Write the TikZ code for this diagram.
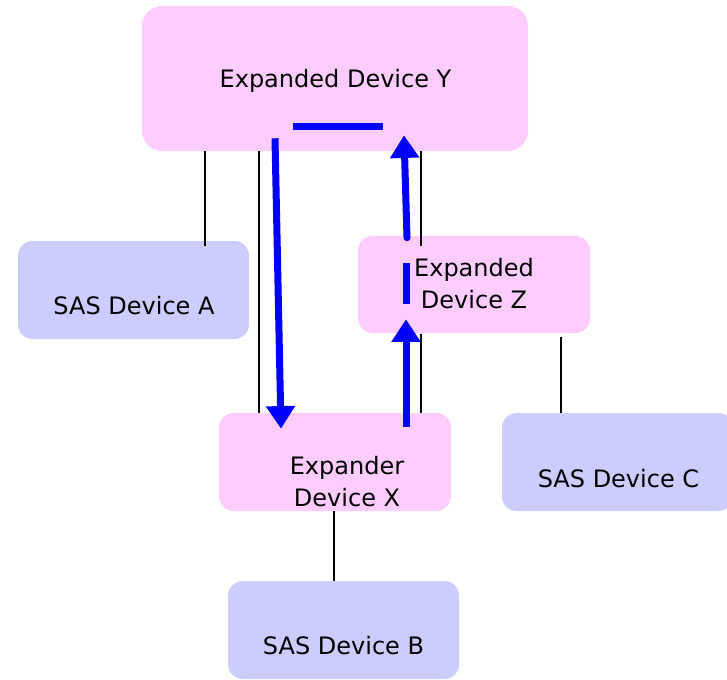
\documentclass[tikz,border=0pt]{standalone}
\usepackage{fontspec}
\setmainfont{DejaVu Sans}
\usetikzlibrary{arrows.meta,calc}
\definecolor{pinkbox}{HTML}{FFCCFF}
\definecolor{bluebox}{HTML}{CCCCFF}
\definecolor{flowblue}{HTML}{0000FF}
\tikzset{
  box/.style={draw=none, rounded corners=11pt, inner sep=0pt},
  dev/.style={box, fill=pinkbox},
  sas/.style={box, fill=bluebox},
  lbl/.style={font=\fontsize{18}{24}\selectfont, align=center, inner sep=0pt, anchor=base},
  link/.style={black, line width=1pt},
  flow/.style={flowblue, line width=5.25pt, -{Triangle[width=21pt,length=17pt]}},
  bar/.style={flowblue, line width=5.25pt},
}
\begin{document}
\begin{tikzpicture}[x=0.75pt,y=-0.75pt]
\useasboundingbox (0,0) rectangle (727,679);
% boxes
\node[dev, rounded corners=15pt, minimum width=289.5pt, minimum height=108.75pt] (Y) at (335,78.5) {};
\node[sas, minimum width=173.25pt, minimum height=73.5pt] (A) at (133.5,290) {};
\node[dev, minimum width=174pt, minimum height=72.75pt] (Z) at (474,284.5) {};
\node[dev, minimum width=174pt, minimum height=73.5pt] (X) at (335,462) {};
\node[sas, minimum width=173.25pt, minimum height=73.5pt] (C) at (617.5,462) {};
\node[sas, minimum width=173.25pt, minimum height=73.5pt] (B) at (343.5,630) {};
% labels
\node[lbl] (Ytext) at (335.5,87) {Expanded Device Y};
\node[lbl] (Atext) at (134,314) {SAS Device A};
\node[lbl] (Ztext) at (474,308) {Expanded\\Device Z};
\node[lbl] (Xtext) at (347,506) {Expander\\Device X};
\node[lbl] (Ctext) at (618.5,487) {SAS Device C};
\node[lbl] (Btext) at (343.5,654) {SAS Device B};
% black links
\draw[link] ($(Y.south)+(-130,0)$) -- ($(A.north)+(71.5,5)$);
\draw[link] ($(Y.south)+(-76,0)$) -- ($(X.north)+(-76,0)$);
\draw[link] ($(Y.south)+(86,0)$) -- ($(Z.north)+(-53,10)$);
\draw[link] ($(Z.south)+(-53,1)$) -- ($(X.north)+(86,0)$);
\draw[link] ($(Z.south)+(87,4)$) -- ($(C.north)+(-56.5,0)$);
\draw[link] ($(X.south)+(-1,0)$) -- ($(B.north)+(-9.5,0)$);
% blue flow
\draw[flow] ($(Y.south)+(-60,-13)$) -- ($(X.north)+(-54,16)$);
\draw[bar] ($(Y.south)+(-42,-25)$) -- ($(Y.south)+(48,-25)$);
\draw[flow] ($(X.north)+(71,14)$) -- ($(Z.south)+(-68,-14)$);
\draw[bar] ($(Z.center)+(-68,-21.5)$) -- ($(Z.center)+(-68,19.5)$);
\draw[flow, line cap=round] ($(Z.north)+(-67,2)$) -- ($(Y.south)+(69,-16)$);
\end{tikzpicture}
\end{document}
